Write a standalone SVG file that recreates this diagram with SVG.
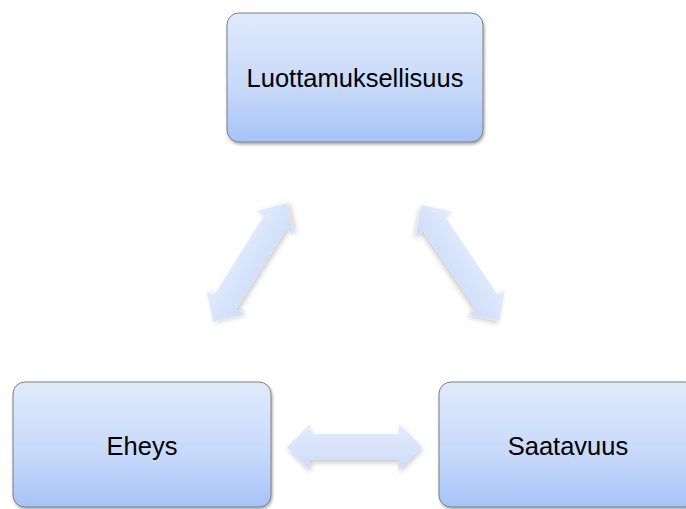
<svg xmlns="http://www.w3.org/2000/svg" width="686" height="509" viewBox="0 0 686 509">
<style>
.box{fill:url(#boxg);stroke:#7f7f7f;stroke-width:1;filter:url(#sh)}
.lbl{font-family:"Liberation Sans",Arial,sans-serif;font-size:25.5px;fill:#000;text-anchor:middle}
.arr{fill:url(#arrg);filter:url(#sh2)}
</style>
<defs>
<linearGradient id="boxg" x1="0" y1="0" x2="0" y2="1">
<stop offset="0" stop-color="#e0eafc"/>
<stop offset="0.6" stop-color="#c6d8fa"/>
<stop offset="1" stop-color="#a6c3f8"/>
</linearGradient>
<linearGradient id="arrg" x1="0" y1="0" x2="0" y2="1">
<stop offset="0" stop-color="#e3ecfc"/>
<stop offset="1" stop-color="#cddcf9"/>
</linearGradient>
<filter id="sh" x="-10%" y="-10%" width="120%" height="130%">
<feDropShadow dx="1" dy="2" stdDeviation="1.5" flood-color="#000" flood-opacity="0.35"/>
</filter>
<filter id="sh2" x="-20%" y="-20%" width="140%" height="140%">
<feDropShadow dx="1" dy="3" stdDeviation="2.5" flood-color="#000" flood-opacity="0.2"/>
</filter>
<path id="dblarrow" d="M-70,0 L-47,-22 L-47,-13 L47,-13 L47,-22 L70,0 L47,22 L47,13 L-47,13 L-47,22 Z"/>
</defs>
<g id="connectors">
<use class="arr" href="#dblarrow" transform="translate(250,262.5) rotate(-58)"/>
<use class="arr" href="#dblarrow" transform="translate(460.5,263) rotate(56)"/>
<path class="arr" d="M287,447 L310,424 L310,434 L399,434 L399,424 L422,447 L399,470 L399,460 L310,460 L310,470 Z"/>
</g>
<g id="node-luottamuksellisuus">
<rect class="box" x="227" y="13" width="256" height="129" rx="12"/>
<text class="lbl" x="355" y="87">Luottamuksellisuus</text>
</g>
<g id="node-eheys">
<rect class="box" x="13" y="382" width="258" height="125" rx="12"/>
<text class="lbl" x="142" y="455">Eheys</text>
</g>
<g id="node-saatavuus">
<rect class="box" x="439" y="382" width="258" height="125" rx="12"/>
<text class="lbl" x="568" y="455">Saatavuus</text>
</g>
</svg>
